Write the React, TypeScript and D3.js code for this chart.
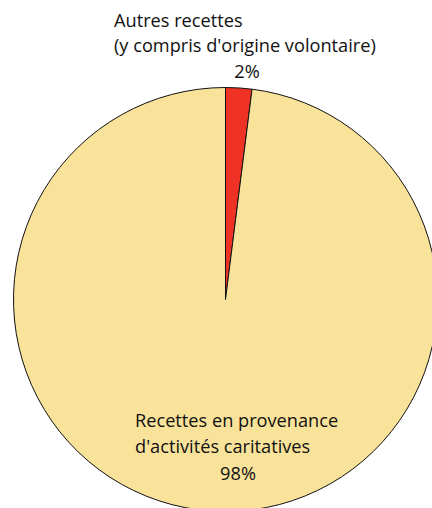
import React from 'react';
import * as d3 from 'd3';

const labels = ["Autres recettes (y compris d'origine volontaire)", 'Recettes en provenance d\'activités caritatives'];
const values = [2, 98];
const colors = ['#EE3224', '#F9E39B'];

const W = 432;
const H = 508;
const cx = 225.5;
const cy = 299.5;
const r = 212;

const App = () => {
  const pie = d3.pie<number>().sort(null)(values);
  const arc = d3.arc<d3.PieArcDatum<number>>().innerRadius(0).outerRadius(r);
  const font = { fontFamily: "'Open Sans', sans-serif", fontSize: 18.2, fill: '#111' };

  return (
    <svg width={W} height={H} style={{ position: 'absolute', left: 0, top: 0 }}>
      <g transform={`translate(${cx},${cy})`}>
        {pie.map((d, i) => (
          <path key={i} d={arc(d) || ''} fill={colors[i]} stroke="#111" strokeWidth={1} />
        ))}
      </g>
      <text x={114} y={27} {...font}>Autres recettes</text>
      <text x={114} y={52} {...font}>(y compris d'origine volontaire)</text>
      <text x={247} y={78} textAnchor="middle" {...font}>{values[0]}%</text>
      <text x={135} y={427} {...font}>Recettes en provenance</text>
      <text x={135} y={453} {...font}>d'activités caritatives</text>
      <text x={238} y={480} textAnchor="middle" {...font}>{values[1]}%</text>
    </svg>
  );
};

export default App;
